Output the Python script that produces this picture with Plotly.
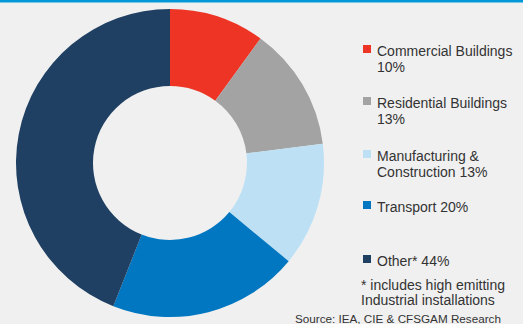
import plotly.graph_objects as go

# Emissions share by sector
sectors = ["Commercial Buildings", "Residential Buildings", "Manufacturing & Construction",
           "Transport", "Other*"]
shares = [10, 13, 13, 20, 44]
colors = ["#ee3424", "#a3a3a3", "#bde0f5", "#0077c0", "#1f4063"]

# Legend text lines (label lines per item)
legend_lines = [
    ["Commercial Buildings", "10%"],
    ["Residential Buildings", "13%"],
    ["Manufacturing &", "Construction 13%"],
    ["Transport 20%"],
    ["Other* 44%"],
]
footnote = ["* includes high emitting", "Industrial installations"]
source = "Source: IEA, CIE & CFSGAM Research"

W, H = 523, 324
BG = "#f0f0f0"
TXT = "#333333"
FONT = "Liberation Sans, Arial, sans-serif"

fig = go.Figure(go.Pie(
    labels=sectors, values=shares, hole=0.5, sort=False, direction="clockwise",
    rotation=0, marker=dict(colors=colors, line=dict(width=0)),
    textinfo="none", hoverinfo="label+percent",
    domain=dict(x=[16 / W, 324 / W], y=[7 / H, 315 / H]),
))

def px(x):
    return x / W

def py(y):
    return 1 - y / H

shapes = [dict(type="rect", xref="paper", yref="paper", x0=0, x1=1,
               y0=py(2.5), y1=1, fillcolor="#0099d8", line=dict(width=0))]
annotations = []

# vertical positions of each legend item's first text line (pixel centre)
item_y = [51, 103, 156, 207, 261]
line_gap = 16
sq_x0, sq_x1 = 363, 371
text_x = 375
for col, lines, yc in zip(colors, legend_lines, item_y):
    shapes.append(dict(type="rect", xref="paper", yref="paper",
                       x0=px(sq_x0), x1=px(sq_x1),
                       y0=py(yc - 6), y1=py(yc + 2),
                       fillcolor=col, line=dict(width=0)))
    for i, t in enumerate(lines):
        annotations.append(dict(text=t, x=px(text_x), y=py(yc + i * line_gap),
                                xref="paper", yref="paper", xanchor="left",
                                yanchor="middle", showarrow=False,
                                font=dict(family=FONT, size=14, color=TXT)))

for i, t in enumerate(footnote):
    annotations.append(dict(text=t, x=px(359), y=py(285 + i * 15),
                            xref="paper", yref="paper", xanchor="left",
                            yanchor="middle", showarrow=False,
                            font=dict(family=FONT, size=14, color=TXT)))

annotations.append(dict(text=source, x=px(503), y=py(318.5), xref="paper", yref="paper",
                        xanchor="right", yanchor="middle", showarrow=False,
                        font=dict(family=FONT, size=11.7, color=TXT)))

fig.update_layout(
    width=W, height=H, margin=dict(l=0, r=0, t=0, b=0),
    paper_bgcolor=BG, plot_bgcolor=BG, showlegend=False,
    shapes=shapes, annotations=annotations,
)

fig.write_html("out.html")
